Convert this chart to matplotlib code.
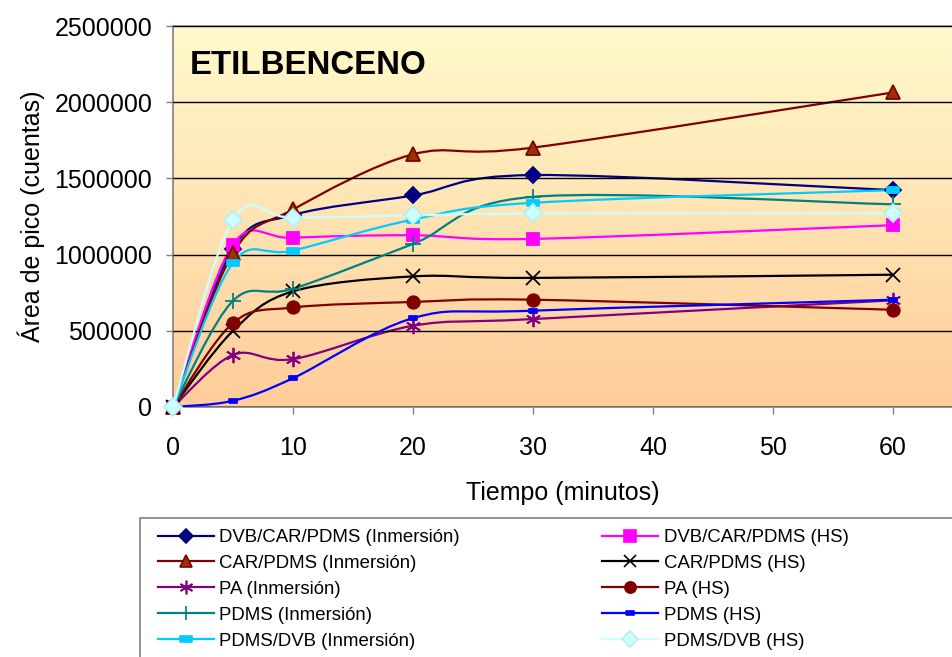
import numpy as np
import matplotlib
matplotlib.use("Agg")
import matplotlib.pyplot as plt
from matplotlib.path import Path
from matplotlib.patches import PathPatch, Rectangle
from matplotlib.lines import Line2D
from matplotlib.colors import LinearSegmentedColormap

plt.rcParams['font.family'] = ['Liberation Sans', 'DejaVu Sans']

# Tiempo de extraccion (minutos)
tiempo = [0, 5, 10, 20, 30, 60]

# Area de pico (cuentas) por fibra y modo
dvb_car_pdms_inm = [0, 1040000, 1260000, 1388000, 1522000, 1423000]
dvb_car_pdms_hs = [0, 1066000, 1110000, 1127000, 1103000, 1193000]
car_pdms_inm = [0, 1011000, 1296000, 1658000, 1702000, 2064000]
car_pdms_hs = [0, 500000, 759000, 857000, 847000, 868000]
pa_inm = [0, 342000, 314000, 533000, 577000, 700000]
pa_hs = [0, 551000, 653000, 689000, 704000, 638000]
pdms_inm = [0, 697000, 776000, 1070000, 1379000, 1330000]
pdms_hs = [0, 41000, 189000, 583000, 632000, 704000]
pdms_dvb_inm = [0, 947000, 1026000, 1230000, 1340000, 1423000]
pdms_dvb_hs = [0, 1230000, 1241000, 1257000, 1270000, 1270000]

etiquetas = ["DVB/CAR/PDMS (Inmersión)", "DVB/CAR/PDMS (HS)",
             "CAR/PDMS (Inmersión)", "CAR/PDMS (HS)",
             "PA (Inmersión)", "PA (HS)",
             "PDMS (Inmersión)", "PDMS (HS)",
             "PDMS/DVB (Inmersión)", "PDMS/DVB (HS)"]
series = [dvb_car_pdms_inm, dvb_car_pdms_hs, car_pdms_inm, car_pdms_hs,
          pa_inm, pa_hs, pdms_inm, pdms_hs, pdms_dvb_inm, pdms_dvb_hs]

rect_marker = [(-1, -0.5), (1, -0.5), (1, 0.5), (-1, 0.5), (-1, -0.5)]
asterisco = (6, 2, 0)

# (color linea, marcador, tamano, relleno, borde)
estilos = [
    ("#000080", "D", 8, "#000080", "#000080"),
    ("#FF00FF", "s", 9, "#FF00FF", "#FF00FF"),
    ("#800000", "^", 10, "#993300", "#800000"),
    ("#000000", "x", 10, "#000000", "#000000"),
    ("#800080", asterisco, 11, "#800080", "#800080"),
    ("#800000", "o", 9, "#800000", "#800000"),
    ("#008080", "+", 11, "#008080", "#008080"),
    ("#0000FF", rect_marker, 6, "#0000FF", "#0000FF"),
    ("#00CCFF", rect_marker, 9, "#00CCFF", "#00CCFF"),
    ("#CCFFFF", "D", 9, "#CCFFFF", "#B8EEF0"),
]


def curva_suave(x, y):
    # Bezier tipo Catmull-Rom, como las lineas suavizadas de Excel
    p = np.column_stack([x, y]).astype(float)
    n = len(p)
    verts = [p[0]]
    codes = [Path.MOVETO]
    for i in range(n - 1):
        p0 = p[i - 1] if i > 0 else p[i]
        p1, p2 = p[i], p[i + 1]
        p3 = p[i + 2] if i + 2 < n else p[i + 1]
        verts += [p1 + (p2 - p0) / 6.0, p2 - (p3 - p1) / 6.0, p2]
        codes += [Path.CURVE4] * 3
    return Path(verts, codes)


W, H = 952, 657
fig = plt.figure(figsize=(W / 100, H / 100), dpi=100)
ax = fig.add_axes([173 / W, 1 - 407 / H, (W - 173) / W, (407 - 26) / H])

# fondo degradado
grad = LinearSegmentedColormap.from_list("fondo", ["#FFCC99", "#FFFACC"])
ax.imshow(np.linspace(0, 1, 256).reshape(-1, 1), cmap=grad, aspect="auto",
          extent=[0, 1, 0, 1], transform=ax.transAxes, origin="lower", zorder=0)

ax.set_xlim(0, (W - 173) / 12)
ax.set_ylim(0, 2500000)
ax.set_yticks(np.arange(0, 2500001, 500000))
ax.set_xticks([0, 10, 20, 30, 40, 50, 60])
ax.yaxis.set_major_formatter(plt.FuncFormatter(lambda v, p: f"{int(v)}"))
ax.yaxis.grid(True, color="black", linewidth=1.0, zorder=1)
ax.set_axisbelow(False)

for i, (vals, est) in enumerate(zip(series, estilos)):
    color, mk, ms, fc, ec = est
    ax.add_patch(PathPatch(curva_suave(tiempo, vals), facecolor="none",
                           edgecolor=color, linewidth=1.6, zorder=2 + i * 0.1))
    ax.plot(tiempo, vals, linestyle="none", marker=mk, markersize=ms,
            markerfacecolor=fc, markeredgecolor=ec, markeredgewidth=1.3,
            zorder=3 + i * 0.1, clip_on=False)

for lado in ["top", "left", "bottom"]:
    ax.spines[lado].set_color("#808080")
    ax.spines[lado].set_linewidth(1.2)
ax.spines["right"].set_visible(False)
ax.tick_params(axis="both", direction="out", length=5, width=1, color="#808080",
               labelsize=18)
ax.tick_params(axis="y", pad=10)
ax.tick_params(axis="x", pad=16)

ax.set_xlabel("Tiempo (minutos)", fontsize=18, labelpad=15)
ax.set_ylabel("Área de pico (cuentas)", fontsize=18, labelpad=7)

fig.text(190 / W, 1 - 65 / H, "ETILBENCENO", fontsize=23.8, fontweight="bold",
         va="center", ha="left")

# leyenda: columna izquierda inmersion, derecha HS
handles = []
for vals, est, lab in zip(series, estilos, etiquetas):
    color, mk, ms, fc, ec = est
    handles.append(Line2D([], [], color=color, linewidth=1.6, marker=mk,
                          markersize=ms * 0.9, markerfacecolor=fc,
                          markeredgecolor=ec, markeredgewidth=1.2, label=lab))
orden = [0, 2, 4, 6, 8, 1, 3, 5, 7, 9]
handles = [handles[k] for k in orden]

fig.patches.append(Rectangle((140 / W, -0.1), 1, 1 - 518 / H + 0.1,
                             transform=fig.transFigure, facecolor="white",
                             edgecolor="#808080", linewidth=1.2))
fig.legend(handles=handles, loc="upper left", ncol=2,
           bbox_to_anchor=(158 / W, 1 - 529 / H), frameon=False,
           borderaxespad=0, borderpad=0, handlelength=3.0,
           handletextpad=0.3, columnspacing=7.65, labelspacing=0.48,
           prop={"size": 13.4})

fig.savefig("out.png", dpi=100)
